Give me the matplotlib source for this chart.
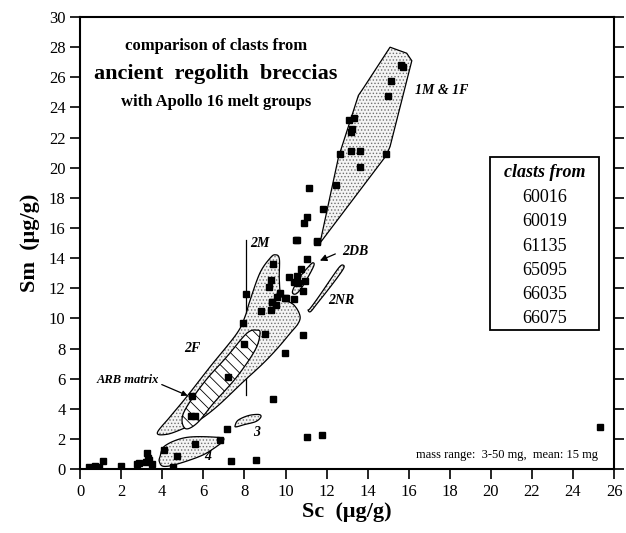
import numpy as np
import matplotlib
matplotlib.use('Agg')
import matplotlib.pyplot as plt
from matplotlib.patches import Polygon, Rectangle

plt.rcParams['font.family'] = ['Liberation Serif', 'DejaVu Serif']
plt.rcParams['hatch.linewidth'] = 0.6

# clast analyses: Sc and Sm (ug/g)
sc = [0.44, 0.73, 0.92, 1.10, 2.01, 2.76, 2.89, 3.25, 3.20, 3.35, 3.48, 3.30,
      4.06, 4.70, 4.54, 5.60, 6.83, 7.17, 7.34, 8.58, 11.04, 11.80, 25.3,
      5.44, 5.40, 5.60, 7.19, 9.38, 8.00, 9.98, 9.02, 7.95, 8.81, 9.33,
      10.84, 10.00, 8.07, 9.30, 9.54, 9.36, 9.98, 9.58, 9.74, 9.20, 9.30, 9.41,
      10.39, 10.84, 10.95, 10.63, 10.43, 10.55, 10.19, 10.76, 11.07, 11.52, 10.55,
      10.50, 11.55, 10.92, 11.04, 11.82, 11.12, 12.46, 13.65, 13.19, 13.63, 12.63,
      14.90, 13.26, 13.20, 13.11, 13.34, 14.98, 15.13, 15.61, 15.71]
sm = [0.15, 0.22, 0.15, 0.55, 0.22, 0.33, 0.37, 1.04, 0.45, 0.60, 0.35, 0.70,
      1.26, 0.86, 0.15, 1.66, 1.92, 2.63, 0.55, 0.60, 2.10, 2.24, 2.80,
      4.87, 3.54, 3.54, 6.13, 4.62, 8.30, 7.68, 8.96, 9.67, 10.50, 11.10,
      8.90, 11.33, 11.65, 10.55, 10.88, 11.10, 11.33, 11.44, 11.70, 12.10, 12.54, 13.60,
      11.28, 11.83, 12.50, 12.32, 12.43, 12.83, 12.76, 13.27, 13.93, 15.04, 15.20,
      15.20, 15.15, 16.34, 16.74, 17.25, 18.67, 18.85, 20.06, 21.10, 21.10, 20.88,
      20.88, 22.54, 22.40, 23.20, 23.27, 24.77, 25.77, 26.85, 26.66]

# melt group fields
g1_x = [15.09, 15.90, 16.15, 15.09, 14.90, 11.68, 12.58, 13.55, 13.80]
g1_y = [28.00, 27.60, 27.10, 21.40, 20.80, 15.00, 20.70, 24.80, 25.30]

g2f_x = [3.76, 4.38, 5.19, 6.33, 7.63, 8.05, 8.25, 8.75, 9.25, 9.50, 9.70, 9.70, 9.82,
         10.40, 10.70, 10.62, 10.22, 9.60, 8.90, 7.95, 6.65, 5.68, 4.87, 4.20]
g2f_y = [2.41, 3.47, 4.80, 6.79, 9.00, 10.20, 11.10, 13.00, 14.00, 14.22, 13.95, 12.54, 11.43,
         10.90, 10.20, 9.67, 9.00, 8.00, 7.00, 5.80, 4.13, 3.14, 2.60, 2.30]

arb_x = [5.11, 5.03, 6.00, 7.14, 8.11, 8.60, 8.76, 8.52, 7.63, 6.49, 5.68]
arb_y = [2.70, 3.70, 5.69, 7.45, 9.00, 9.22, 9.00, 7.90, 6.12, 4.36, 3.03]

g2db_x = [11.33, 11.36, 10.87, 10.55, 10.35, 10.39, 10.71, 11.12]
g2db_y = [13.69, 13.43, 12.21, 11.66, 11.66, 11.99, 12.76, 13.43]

g2nr_x = [12.79, 12.82, 12.30, 11.55, 11.22, 11.10, 11.20, 11.65, 12.25, 12.62]
g2nr_y = [13.54, 13.30, 12.30, 11.00, 10.45, 10.55, 10.66, 11.50, 12.70, 13.40]

g3_x = [7.55, 7.70, 8.20, 8.70, 8.80, 8.55, 8.00, 7.60]
g3_y = [2.90, 3.25, 3.55, 3.62, 3.45, 3.15, 2.95, 2.80]

g4_x = [3.89, 4.14, 5.19, 6.73, 6.98, 6.49, 5.84, 4.70, 4.06, 3.86]
g4_y = [0.82, 1.55, 2.10, 2.10, 1.90, 1.35, 0.85, 0.32, 0.18, 0.48]

clast_samples = ['60016', '60019', '61135', '65095', '66035', '66075']


def smooth_closed(xs, ys, n=16):
    # closed Catmull-Rom curve through the outline vertices
    p = np.column_stack([xs, ys])
    m = len(p)
    out = []
    for i in range(m):
        p0, p1, p2, p3 = p[i - 1], p[i], p[(i + 1) % m], p[(i + 2) % m]
        for t in np.linspace(0, 1, n, endpoint=False):
            t2, t3 = t * t, t * t * t
            out.append(0.5 * (2 * p1 + (-p0 + p2) * t
                              + (2 * p0 - 5 * p1 + 4 * p2 - p3) * t2
                              + (-p0 + 3 * p1 - 3 * p2 + p3) * t3))
    return np.array(out)


def field(ax, verts, hatch='.....', hcolor='#707070', face='#f4f4f4', z=2):
    ax.add_patch(Polygon(verts, closed=True, facecolor=face, edgecolor=hcolor,
                         hatch=hatch, lw=0, zorder=z))
    ax.add_patch(Polygon(verts, closed=True, fill=False, edgecolor='black',
                         lw=0.9, zorder=z + 0.1))


fig = plt.figure(figsize=(6.26, 5.33), dpi=100)
ax = fig.add_axes([0.128, 0.120, 0.853, 0.848])

# 2M trend line sits under the fields
ax.plot([8.07, 8.07], [4.9, 15.2], color='black', lw=0.9, zorder=1)

field(ax, np.column_stack([g1_x, g1_y]))
field(ax, smooth_closed(g2f_x, g2f_y))
field(ax, smooth_closed(arb_x, arb_y), hatch='\\\\\\', hcolor='black',
      face='white', z=3)
field(ax, smooth_closed(g2db_x, g2db_y))
field(ax, smooth_closed(g2nr_x, g2nr_y))
field(ax, smooth_closed(g3_x, g3_y))
field(ax, smooth_closed(g4_x, g4_y))

ax.plot(sc, sm, 's', color='black', markersize=4.2, zorder=5)

# field labels
lab = dict(fontsize=10, fontweight='bold', fontstyle='italic', zorder=6)
ax.text(17.6, 25.1, '1M & 1F', ha='center', va='center', **lab)
ax.text(8.3, 15.0, '2M', ha='left', va='center', **lab)
ax.text(13.4, 14.45, '2DB', ha='center', va='center', **lab)
ax.text(12.7, 11.2, '2NR', ha='center', va='center', **lab)
ax.text(5.45, 8.0, '2F', ha='center', va='center', **lab)
ax.text(8.6, 2.45, '3', ha='center', va='center', **lab)
ax.text(6.2, 0.8, '4', ha='center', va='center', **lab)
ax.text(2.3, 5.9, 'ARB matrix', ha='center', va='center', fontsize=9,
        fontweight='bold', fontstyle='italic', zorder=6)
ax.annotate('', xy=(11.55, 13.76), xytext=(12.55, 14.35),
            arrowprops=dict(arrowstyle='-|>', color='black', lw=0.9,
                            mutation_scale=10), zorder=6)
ax.annotate('', xy=(5.36, 4.8), xytext=(3.85, 5.68),
            arrowprops=dict(arrowstyle='-|>', color='black', lw=0.9,
                            mutation_scale=8), zorder=6)

# heading
ax.text(6.6, 28.1, 'comparison of clasts from', ha='center', va='center',
        fontsize=12, fontweight='bold')
ax.text(6.6, 26.2, 'ancient  regolith  breccias', ha='center', va='center',
        fontsize=16, fontweight='bold')
ax.text(6.6, 24.35, 'with Apollo 16 melt groups', ha='center', va='center',
        fontsize=12, fontweight='bold')

# sample list box
ax.add_patch(Rectangle((19.96, 9.2), 5.31, 11.5, fill=False, edgecolor='black',
                       lw=1.3, zorder=4))
ax.text(22.6, 19.7, 'clasts from', ha='center', va='center', fontsize=13,
        fontweight='bold', fontstyle='italic')
for i, s in enumerate(clast_samples):
    ax.text(22.6, 18.0 - i * 1.6, s, ha='center', va='center', fontsize=13)

ax.text(25.2, 0.95, 'mass range:  3-50 mg,  mean: 15 mg', ha='right',
        va='center', fontsize=9)

ax.set_xlim(0, 26)
ax.set_ylim(0, 30)
ax.set_xticks(np.arange(0, 27, 2))
ax.set_yticks(np.arange(0, 31, 2))
ax.tick_params(direction='out', length=7, width=1.2, labelsize=12, right=True)
for sp in ax.spines.values():
    sp.set_linewidth(1.5)

ax.set_xlabel('Sc  (μg/g)', fontsize=16, fontweight='bold', labelpad=2)
ax.set_ylabel('Sm  (μg/g)', fontsize=16, fontweight='bold', labelpad=6)

fig.savefig('out.png', dpi=100)
